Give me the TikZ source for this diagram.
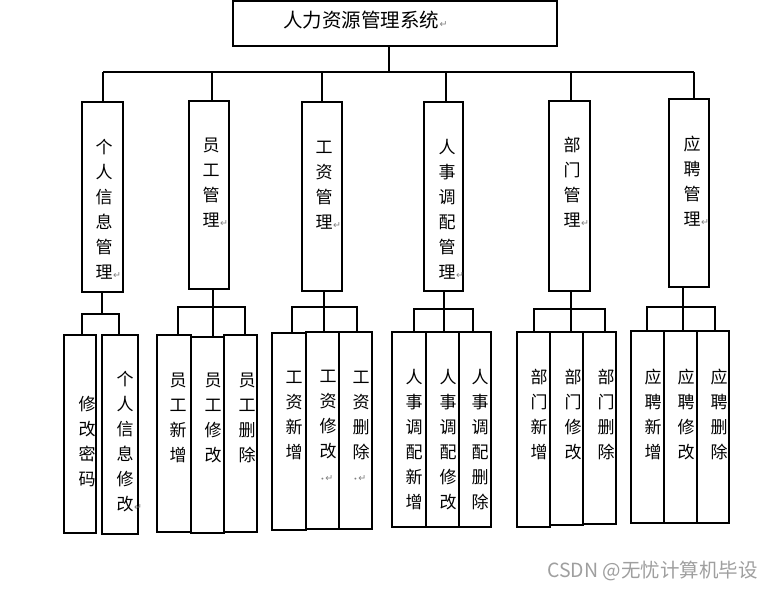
\documentclass[tikz,border=0pt]{standalone}
\usepackage{fontspec}
\newfontfamily\cjk{Noto Sans CJK SC}
\newfontfamily\symf{DejaVu Sans}
\newcommand{\pmark}{\rlap{\kern0.5pt\symf\fontsize{9.5}{9.5}\selectfont\textcolor{gray}{↵}}}
\newcommand{\bx}[5]{\node[box, minimum width={#4-#2}, minimum height={#5-#3}] (#1) at ({(#2+#4)/2},{(#3+#5)/2}) {};}
\begin{document}
\begin{tikzpicture}[x=1pt,y=-1pt,
  box/.style={draw=black, line width=1.2pt, inner sep=0pt, outer sep=0pt},
  vtext/.style={inner sep=0pt, align=center, font=\cjk\fontsize{17}{25}\selectfont},
  conn/.style={draw=black, line width=1.1pt},
  small/.style={inner sep=0pt, text=gray, font=\symf\fontsize{7}{7}\selectfont}]
\useasboundingbox[fill=white] (0,0) rectangle (772,589);

% top
\bx{top}{233}{1}{557}{46}
\node[anchor=west, inner sep=0pt, font=\cjk\fontsize{19.5}{20}\selectfont] (title) at (283,20) {人力资源管理系统\pmark};

% level 2
\bx{b1}{82}{102}{123}{292}
\bx{b2}{189}{101}{229}{289}
\bx{b3}{302}{102}{342}{291}
\bx{b4}{424}{102}{463}{291}
\bx{b5}{549}{101}{590}{291}
\bx{b6}{669}{99}{709}{287}
\node[vtext] (t1) at (104,209.5) {个\\人\\信\\息\\管\\理\pmark};
\node[vtext] (t2) at (211,182.5) {员\\工\\管\\理\pmark};
\node[vtext] (t3) at (324,185) {工\\资\\管\\理\pmark};
\node[vtext] (t4) at (447,209.5) {人\\事\\调\\配\\管\\理\pmark};
\node[vtext] (t5) at (572,182.5) {部\\门\\管\\理\pmark};
\node[vtext] (t6) at (692,181) {应\\聘\\管\\理\pmark};

% leaves
\bx{l11}{64}{335}{96}{533}
\bx{l12}{102}{335}{138}{534}
\bx{l21}{157}{335}{191}{532}
\bx{l22}{191}{337}{224}{533}
\bx{l23}{224}{335}{257}{532}
\bx{l31}{272}{333}{306}{530}
\bx{l32}{306}{332}{339}{529}
\bx{l33}{339}{332}{372}{529}
\bx{l41}{392}{332}{426}{527}
\bx{l42}{426}{332}{459}{527}
\bx{l43}{459}{332}{491}{527}
\bx{l51}{517}{332}{550}{527}
\bx{l52}{550}{332}{583}{525}
\bx{l53}{583}{332}{616}{524}
\bx{l61}{631}{331}{664}{523}
\bx{l62}{664}{331}{697}{523}
\bx{l63}{697}{331}{729}{523}

\node[vtext] (s11) at (87,441.5) {修\\改\\密\\码};
\node[vtext] (s12) at (125,441.5) {个\\人\\信\\息\\修\\改\pmark};
\node[vtext] (s21) at (178,417.5) {员\\工\\新\\增};
\node[vtext] (s22) at (213,417.5) {员\\工\\修\\改};
\node[vtext] (s23) at (247,417.5) {员\\工\\删\\除};
\node[vtext] (s31) at (294,415) {工\\资\\新\\增};
\node[vtext] (s32) at (328,415) {工\\资\\修\\改};
\node[vtext] (s33) at (361,415) {工\\资\\删\\除};
\node[small] (m32) at (327,479) {\fontsize{6.5}{6.5}\selectfont•\,\fontsize{9.5}{9.5}\selectfont↵};
\node[small] (m33) at (360,479) {\fontsize{6.5}{6.5}\selectfont•\,\fontsize{9.5}{9.5}\selectfont↵};
\node[vtext] (s41) at (414,439.5) {人\\事\\调\\配\\新\\增};
\node[vtext] (s42) at (448,439.5) {人\\事\\调\\配\\修\\改};
\node[vtext] (s43) at (480,439.5) {人\\事\\调\\配\\删\\除};
\node[vtext] (s51) at (539,414.5) {部\\门\\新\\增};
\node[vtext] (s52) at (573,414.5) {部\\门\\修\\改};
\node[vtext] (s53) at (606,414.5) {部\\门\\删\\除};
\node[vtext] (s61) at (653,414.5) {应\\聘\\新\\增};
\node[vtext] (s62) at (686,414.5) {应\\聘\\修\\改};
\node[vtext] (s63) at (719,414.5) {应\\聘\\删\\除};

% top connectors
\coordinate (hub) at (389,72);
\coordinate (d1) at (103,72);
\coordinate (d2) at (212,72);
\coordinate (d3) at (322,72);
\coordinate (d4) at (446,72);
\coordinate (d5) at (571,72);
\coordinate (d6) at (694,72);
\draw[conn] (top.south -| hub) -- (hub);
\draw[conn] (d1) -- (d6);
\foreach \i in {1,...,6} {\draw[conn] (d\i) -- (d\i |- b\i.north);}

% group connectors
\coordinate (g1) at (102,314); \coordinate (g1a) at (82,314); \coordinate (g1b) at (119,314);
\draw[conn] (g1 |- b1.south) -- (g1);
\draw[conn] (g1a |- l11.north) -- (g1a) -- (g1b) -- (g1b |- l12.north);

\coordinate (g2) at (213,307); \coordinate (g2a) at (178,307); \coordinate (g2b) at (245,307);
\draw[conn] (g2 |- b2.south) -- (g2 |- l22.north);
\draw[conn] (g2a |- l21.north) -- (g2a) -- (g2b) -- (g2b |- l23.north);

\coordinate (g3) at (324,307); \coordinate (g3a) at (292,307); \coordinate (g3b) at (357,307);
\draw[conn] (g3 |- b3.south) -- (g3 |- l32.north);
\draw[conn] (g3a |- l31.north) -- (g3a) -- (g3b) -- (g3b |- l33.north);

\coordinate (g4) at (444,309); \coordinate (g4a) at (414,309); \coordinate (g4b) at (473,309);
\draw[conn] (g4 |- b4.south) -- (g4 |- l42.north);
\draw[conn] (g4a |- l41.north) -- (g4a) -- (g4b) -- (g4b |- l43.north);

\coordinate (g5) at (571,309); \coordinate (g5a) at (534,309); \coordinate (g5b) at (605,309);
\draw[conn] (g5 |- b5.south) -- (g5 |- l52.north);
\draw[conn] (g5a |- l51.north) -- (g5a) -- (g5b) -- (g5b |- l53.north);

\coordinate (g6) at (683,307); \coordinate (g6a) at (647,307); \coordinate (g6b) at (715,307);
\draw[conn] (g6 |- b6.south) -- (g6 |- l62.north);
\draw[conn] (g6a |- l61.north) -- (g6a) -- (g6b) -- (g6b |- l63.north);

% watermark
\node[anchor=east, inner sep=0pt, text=gray!75, font=\cjk\fontsize{19.5}{19.5}\selectfont] (wm) at (758,571) {CSDN @无忧计算机毕设};
\end{tikzpicture}
\end{document}
